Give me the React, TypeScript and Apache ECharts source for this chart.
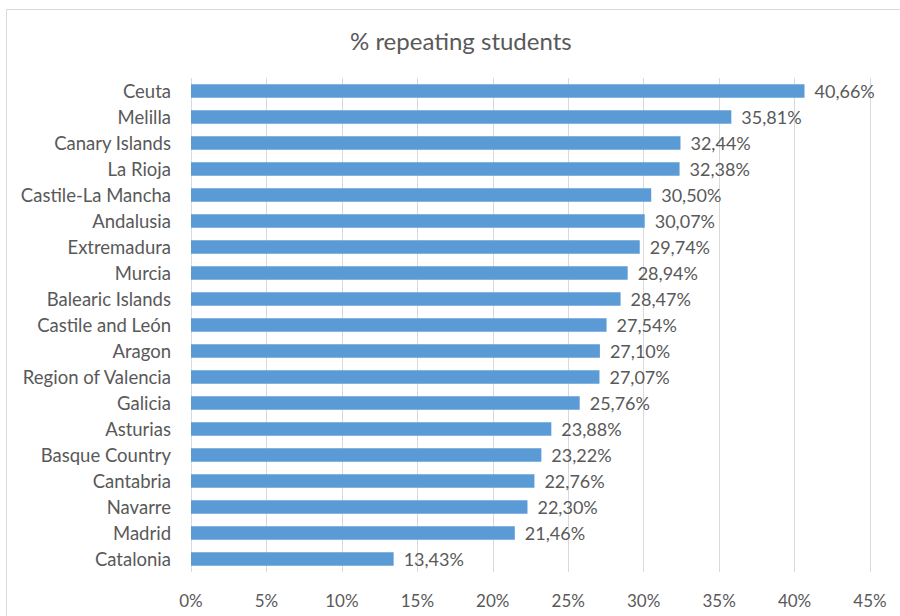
import React, { useEffect, useRef } from "react";
import * as echarts from "echarts";

const regions = [
  "Ceuta", "Melilla", "Canary Islands", "La Rioja", "Castile-La Mancha", "Andalusia",
  "Extremadura", "Murcia", "Balearic Islands", "Castile and León", "Aragon",
  "Region of Valencia", "Galicia", "Asturias", "Basque Country", "Cantabria",
  "Navarre", "Madrid", "Catalonia",
];
const repeating = [
  40.66, 35.81, 32.44, 32.38, 30.5, 30.07, 29.74, 28.94, 28.47, 27.54, 27.1,
  27.07, 25.76, 23.88, 23.22, 22.76, 22.3, 21.46, 13.43,
];
const titleText = "% repeating students";

const FONT = "Lato, 'Open Sans', sans-serif";
const GRAY = "#595959";

export default function App() {
  const ref = useRef<HTMLDivElement>(null);
  useEffect(() => {
    if (!ref.current) return;
    const chart = echarts.init(ref.current, undefined, { renderer: "svg" });
    chart.setOption({
      animation: false,
      backgroundColor: "#ffffff",
      title: {
        text: titleText,
        left: 345,
        top: 23,
        textStyle: { fontFamily: FONT, fontSize: 24, fontWeight: "normal", color: GRAY },
      },
      graphic: [
        {
          type: "rect",
          shape: { x: 6.5, y: 9.5, width: 1000, height: 1000 },
          style: { fill: "none", stroke: "#d9d9d9", lineWidth: 1 },
          silent: true,
          z: -10,
        },
      ],
      grid: { left: 191, right: 30, top: 78, bottom: 44, containLabel: false },
      xAxis: {
        type: "value",
        min: 0,
        max: 45,
        interval: 5,
        axisLine: { show: false },
        axisTick: { show: false },
        splitLine: { show: true, lineStyle: { color: "#d9d9d9", width: 1 } },
        axisLabel: {
          formatter: (v: number) => `${v}%`,
          fontFamily: FONT,
          fontSize: 17,
          color: GRAY,
          margin: 20,
        },
      },
      yAxis: {
        type: "category",
        data: regions,
        inverse: true,
        axisLine: { show: false },
        axisTick: { show: false },
        axisLabel: { fontFamily: FONT, fontSize: 18.5, color: GRAY, margin: 20 },
      },
      series: [
        {
          type: "bar",
          data: repeating,
          barWidth: "51%",
          itemStyle: { color: "#5b9bd5" },
          label: {
            show: true,
            position: "right",
            distance: 10,
            fontFamily: FONT,
            fontSize: 18,
            color: GRAY,
            formatter: (p: any) => `${Number(p.value).toFixed(2).replace(".", ",")}%`,
          },
        },
      ],
    });
    return () => chart.dispose();
  }, []);
  return (
    <div
      ref={ref}
      style={{ position: "fixed", left: 0, top: 0, width: 900, height: 616 }}
    />
  );
}
